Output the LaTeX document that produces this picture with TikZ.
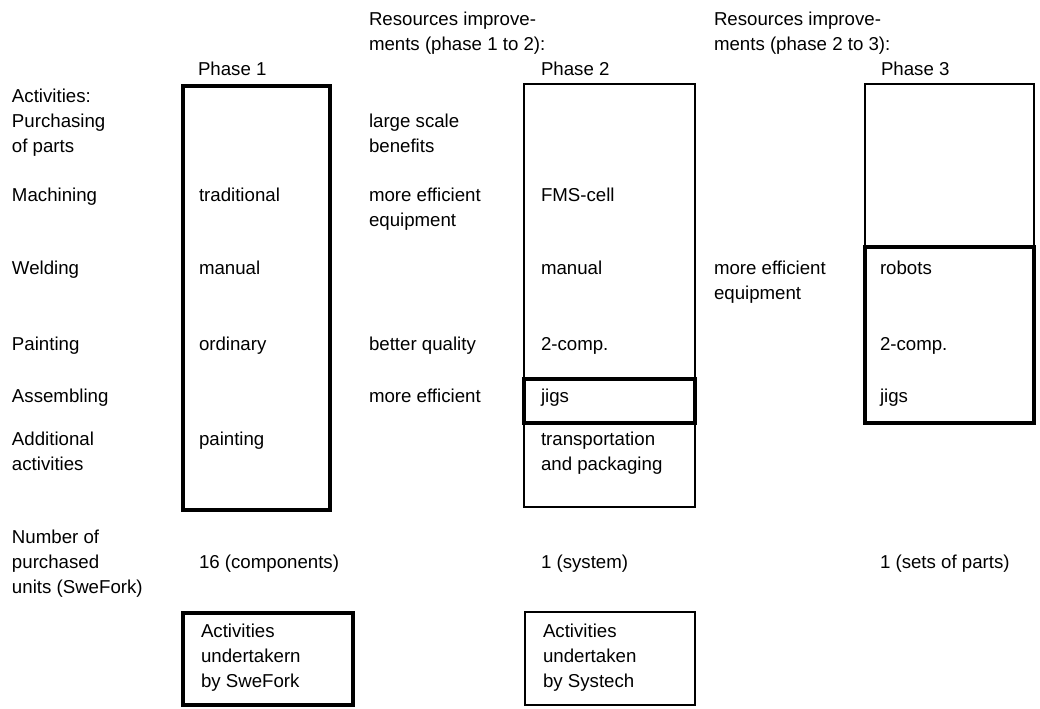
\documentclass[tikz,border=0pt]{standalone}
\usepackage{fontspec}
\setmainfont{Liberation Sans}
\begin{document}
\begin{tikzpicture}[x=0.75pt,y=-0.75pt,
  lbl/.style={anchor=base west,inner sep=0pt,outer sep=0pt,font=\fontsize{14}{18}\selectfont},
  thickbox/.style={draw,line width=2.5pt},
  thinbox/.style={draw,line width=1.3pt}]
\useasboundingbox (0,0) rectangle (1040,709);

% phase columns
\draw[thickbox] (183,86) rectangle (330,510);
\draw[thinbox] (524,84) rectangle (695,507);
\draw[thickbox] (524,379) rectangle (695,423);
\draw[thinbox] (865,84) rectangle (1034,423);
\draw[thickbox] (865,247) rectangle (1034,423);

% legend boxes
\draw[thickbox] (183,613) rectangle (353,705);
\draw[thinbox] (525,612) rectangle (695,705);

% headings
\node[lbl] (r12a) at (369,26) {Resources improve-};
\node[lbl] (r12b) at (369,51) {ments (phase 1 to 2):};
\node[lbl] (r23a) at (714,26) {Resources improve-};
\node[lbl] (r23b) at (714,51) {ments (phase 2 to 3):};
\node[lbl] (act) at (12,103) {Activities:};
\node[lbl] (ph1) at (198,76) {Phase 1};
\node[lbl] (ph2) at (541,76) {Phase 2};
\node[lbl] (ph3) at (881,76) {Phase 3};

% activity labels
\node[lbl] (pur1) at (12,128) {Purchasing};
\node[lbl] (pur2) at (12,153) {of parts};
\node[lbl] (mach) at (12,202) {Machining};
\node[lbl] (weld) at (12,275) {Welding};
\node[lbl] (paint) at (12,351) {Painting};
\node[lbl] (assem) at (12,403) {Assembling};
\node[lbl] (add1) at (12,446) {Additional};
\node[lbl] (add2) at (12,471) {activities};
\node[lbl] (num1) at (12,543) {Number of};
\node[lbl] (num2) at (12,568) {purchased};
\node[lbl] (num3) at (12,593) {units (SweFork)};

% phase 1
\node[lbl] (p1mach) at (199,202) {traditional};
\node[lbl] (p1weld) at (199,275) {manual};
\node[lbl] (p1paint) at (199,351) {ordinary};
\node[lbl] (p1add) at (199,446) {painting};
\node[lbl] (p1num) at (199,568) {16 (components)};

% improvements 1 to 2
\node[lbl] (i1a) at (369,128) {large scale};
\node[lbl] (i1b) at (369,153) {benefits};
\node[lbl] (i2a) at (369,202) {more efficient};
\node[lbl] (i2b) at (369,227) {equipment};
\node[lbl] (i3) at (369,351) {better quality};
\node[lbl] (i4) at (369,403) {more efficient};

% phase 2
\node[lbl] (p2mach) at (541,202) {FMS-cell};
\node[lbl] (p2weld) at (541,275) {manual};
\node[lbl] (p2paint) at (541,351) {2-comp.};
\node[lbl] (p2assem) at (541,403) {jigs};
\node[lbl] (p2add1) at (541,446) {transportation};
\node[lbl] (p2add2) at (541,471) {and packaging};
\node[lbl] (p2num) at (541,568) {1 (system)};

% improvements 2 to 3
\node[lbl] (j1a) at (714,275) {more efficient};
\node[lbl] (j1b) at (714,300) {equipment};

% phase 3
\node[lbl] (p3weld) at (880,275) {robots};
\node[lbl] (p3paint) at (880,351) {2-comp.};
\node[lbl] (p3assem) at (880,403) {jigs};
\node[lbl] (p3num) at (880,568) {1 (sets of parts)};

% legend texts
\node[lbl] (s1) at (201,637) {Activities};
\node[lbl] (s2) at (201,662) {undertakern};
\node[lbl] (s3) at (201,687) {by SweFork};
\node[lbl] (y1) at (543,637) {Activities};
\node[lbl] (y2) at (543,662) {undertaken};
\node[lbl] (y3) at (543,687) {by Systech};
\end{tikzpicture}
\end{document}
